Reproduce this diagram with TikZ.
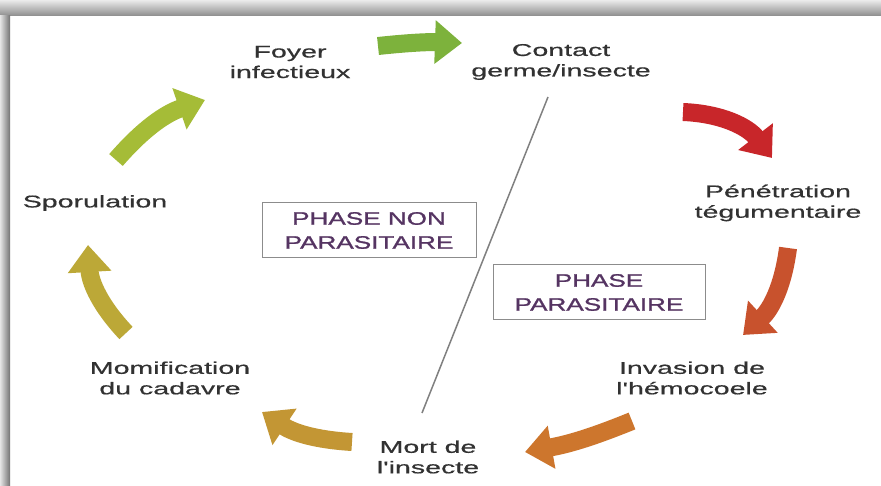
\documentclass[tikz,border=0pt]{standalone}
\usepackage{fontspec}
\newfontfamily\labelfont[FakeStretch=1.68, FakeBold=0.6]{Liberation Sans}
\newfontfamily\phasefont[FakeStretch=1.45, FakeBold=1.3]{Liberation Sans}
\usetikzlibrary{arrows.meta}
\definecolor{txtgray}{RGB}{50,50,50}
\definecolor{phasetxt}{RGB}{85,52,98}
\definecolor{arrA}{RGB}{125,178,60}
\definecolor{arrB}{RGB}{200,38,42}
\definecolor{arrC}{RGB}{200,82,45}
\definecolor{arrD}{RGB}{205,118,45}
\definecolor{arrE}{RGB}{195,150,52}
\definecolor{arrF}{RGB}{188,168,55}
\definecolor{arrG}{RGB}{165,188,55}
\tikzset{
	lbl/.style={align=center, inner sep=0pt, text=txtgray, font=\labelfont\fontsize{17}{20.5}\selectfont},
	phasebox/.style={draw=black!45, line width=1pt, align=center, text=phasetxt, minimum width=214pt, minimum height=55pt, font=\phasefont\fontsize{18}{24}\selectfont},
	cyc/.style={line width=18pt, -{Triangle[width=42pt, length=27pt]}},
}
\def\cycarrow[#1](#2)(#3)(#4){\draw[cyc, #1] (#2) to[bend left=#4] (#3);}

\begin{document}
\begin{tikzpicture}[x=1pt, y=-1pt]
			%%%%% START %%%%%
			\useasboundingbox (0, 0) rectangle (881, 486);
			\fill[white] (0, 0) rectangle (881, 486);
			\shade[top color=black!8, bottom color=black!45] (0, 0) rectangle (881, 16);
			\shade[left color=black!10, right color=black!55] (0, 16) rectangle (10, 486);
			
			\node[lbl] (foyer) at (290, 62) {Foyer\\infectieux};
			\node[lbl] (contact) at (561, 62) {Contact\\germe/insecte};
			\node[lbl] (penetration) at (778, 203) {Pénétration\\tégumentaire};
			\node[lbl] (invasion) at (692, 378) {Invasion de\\l'hémocoele};
			\node[lbl] (mort) at (428, 457) {Mort de\\l'insecte};
			\node[lbl] (momification) at (170, 378) {Momification\\du cadavre};
			\node[lbl] (sporulation) at (95, 203) {Sporulation};
			
			\node[phasebox] (nonpara) at (369, 230.5) {PHASE NON\\PARASITAIRE};
			\node[phasebox, minimum width=212pt] (para) at (599, 292.5) {PHASE\\PARASITAIRE};
			
			\coordinate (top) at (548, 97);
			\coordinate (bottom) at (422, 413);
			\draw[line width=1.5pt, color=black!50] (top) -- (bottom);
			
			\coordinate (a1s) at (378, 46);  \coordinate (a1e) at (462, 43);
			\coordinate (a2s) at (683, 112); \coordinate (a2e) at (772, 158);
			\coordinate (a3s) at (788, 248); \coordinate (a3e) at (743, 335);
			\coordinate (a4s) at (632, 421); \coordinate (a4e) at (525, 452);
			\coordinate (a5s) at (352, 442); \coordinate (a5e) at (262, 412);
			\coordinate (a6s) at (126, 333); \coordinate (a6e) at (88, 245);
			\coordinate (a7s) at (116, 160); \coordinate (a7e) at (205, 100);
			
			\cycarrow[color=arrA](a1s)(a1e)(4)
			\cycarrow[color=arrB](a2s)(a2e)(25)
			\cycarrow[color=arrC](a3s)(a3e)(20)
			\cycarrow[color=arrD](a4s)(a4e)(6)
			\cycarrow[color=arrE](a5s)(a5e)(15)
			\cycarrow[color=arrF](a6s)(a6e)(20)
			\cycarrow[color=arrG](a7s)(a7e)(15)
			%%%%% END %%%%%
\end{tikzpicture}
\end{document}
